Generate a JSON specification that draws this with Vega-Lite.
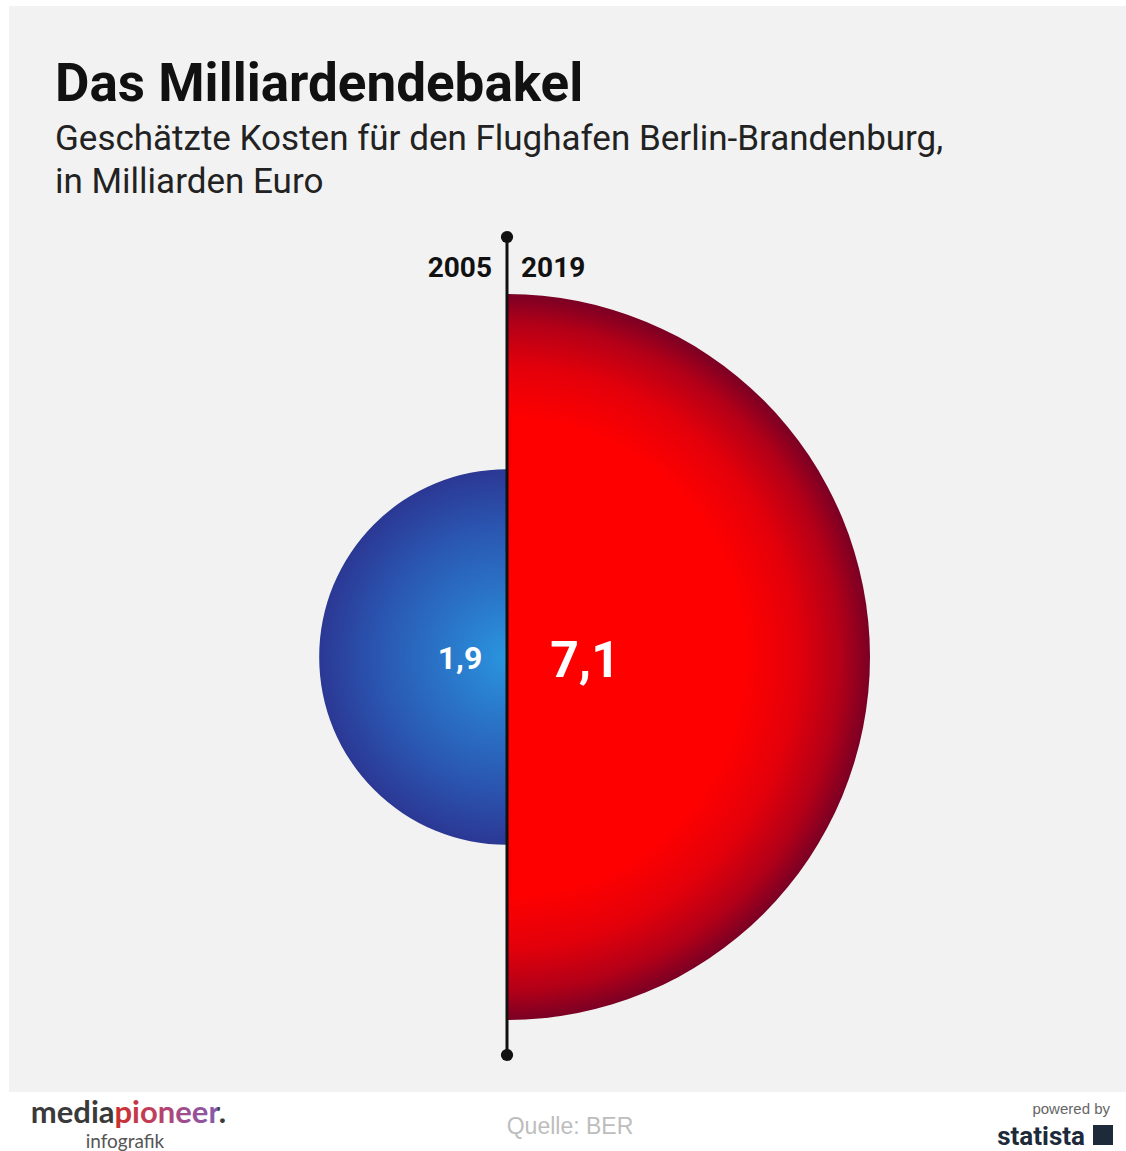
{
  "$schema": "https://vega.github.io/schema/vega-lite/v6.json",
  "width": 1117,
  "height": 1086,
  "autosize": {"type": "none"},
  "padding": {"left": 9, "top": 6, "right": 0, "bottom": 59},
  "background": "#ffffff",
  "title": {
    "text": "Das Milliardendebakel",
    "subtitle": ["Geschätzte Kosten für den Flughafen Berlin-Brandenburg,", "in Milliarden Euro"],
    "anchor": "start",
    "frame": "group",
    "offset": -194,
    "dx": 46
  },
  "config": {
    "view": {"fill": "#f2f2f2", "stroke": null},
    "axis": {"disable": true},
    "locale": {"number": {"decimal": ",", "thousands": ".", "grouping": [3], "currency": ["", " €"]}},
    "title": {
      "font": "Roboto",
      "fontSize": 53,
      "fontWeight": "bold",
      "color": "#111111",
      "subtitleFont": "Roboto",
      "subtitleFontSize": 35,
      "subtitleColor": "#222222",
      "subtitleLineHeight": 43,
      "subtitlePadding": 10
    }
  },
  "data": {"values": [
    {"year": "2005", "cost": 1.9},
    {"year": "2019", "cost": 7.1}
  ]},
  "layer": [
    {
      "transform": [{"filter": "datum.year == '2019'"}],
      "mark": {
        "type": "arc",
        "fill": {
          "gradient": "radial",
          "x1": 0.25, "y1": 0.5, "r1": 0,
          "x2": 0.25, "y2": 0.5, "r2": 0.5,
          "stops": [
            {"offset": 0, "color": "#ff0000"},
            {"offset": 0.65, "color": "#ff0000"},
            {"offset": 0.8, "color": "#e3000a"},
            {"offset": 0.92, "color": "#b20018"},
            {"offset": 1, "color": "#7a0024"}
          ]
        }
      },
      "encoding": {
        "x": {"datum": 0, "type": "quantitative", "scale": {"domain": [-4.98, 6.19], "nice": false, "zero": false}},
        "y": {"datum": 0, "type": "quantitative", "scale": {"domain": [-4.35, 6.51], "nice": false, "zero": false}},
        "theta": {"datum": 0, "type": "quantitative", "scale": {"domain": [0, 2]}},
        "theta2": {"datum": 1},
        "radius": {"field": "cost", "type": "quantitative", "scale": {"type": "sqrt", "domain": [0, 7.1], "range": [0, 363]}}
      }
    },
    {
      "transform": [{"filter": "datum.year == '2005'"}],
      "mark": {
        "type": "arc",
        "fill": {
          "gradient": "radial",
          "x1": 0.75, "y1": 0.5, "r1": 0,
          "x2": 0.75, "y2": 0.5, "r2": 0.5,
          "stops": [
            {"offset": 0, "color": "#2a95de"},
            {"offset": 0.35, "color": "#2a74c8"},
            {"offset": 0.7, "color": "#2a55b0"},
            {"offset": 1, "color": "#2b3894"}
          ]
        }
      },
      "encoding": {
        "x": {"datum": 0, "type": "quantitative"},
        "y": {"datum": 0, "type": "quantitative"},
        "theta": {"datum": 1, "type": "quantitative"},
        "theta2": {"datum": 2},
        "radius": {"field": "cost", "type": "quantitative"}
      }
    },
    {
      "transform": [{"filter": "datum.year == '2019'"}],
      "mark": {"type": "rule", "color": "#111111", "strokeWidth": 3},
      "encoding": {
        "x": {"datum": 0, "type": "quantitative"},
        "y": {"datum": -3.98, "type": "quantitative"},
        "y2": {"datum": 4.2}
      }
    },
    {
      "transform": [{"filter": "datum.year == '2019'"}],
      "mark": {"type": "point", "filled": true, "color": "#111111", "size": 150, "opacity": 1, "shape": "circle"},
      "encoding": {
        "x": {"datum": 0, "type": "quantitative"},
        "y": {"datum": 4.2, "type": "quantitative"}
      }
    },
    {
      "transform": [{"filter": "datum.year == '2019'"}],
      "mark": {"type": "point", "filled": true, "color": "#111111", "size": 150, "opacity": 1, "shape": "circle"},
      "encoding": {
        "x": {"datum": 0, "type": "quantitative"},
        "y": {"datum": -3.98, "type": "quantitative"}
      }
    },
    {
      "transform": [{"filter": "datum.year == '2005'"}],
      "mark": {"type": "text", "align": "right", "baseline": "alphabetic", "dx": -15, "font": "Roboto", "fontSize": 28, "fontWeight": "bold", "color": "#111111"},
      "encoding": {
        "x": {"datum": 0, "type": "quantitative"},
        "y": {"datum": 3.8, "type": "quantitative"},
        "text": {"field": "year"}
      }
    },
    {
      "transform": [{"filter": "datum.year == '2019'"}],
      "mark": {"type": "text", "align": "left", "baseline": "alphabetic", "dx": 14, "font": "Roboto", "fontSize": 28, "fontWeight": "bold", "color": "#111111"},
      "encoding": {
        "x": {"datum": 0, "type": "quantitative"},
        "y": {"datum": 3.8, "type": "quantitative"},
        "text": {"field": "year"}
      }
    },
    {
      "transform": [{"filter": "datum.year == '2005'"}],
      "mark": {"type": "text", "align": "center", "baseline": "alphabetic", "dx": -47, "font": "Roboto", "fontSize": 32, "fontWeight": "bold", "color": "#ffffff"},
      "encoding": {
        "x": {"datum": 0, "type": "quantitative"},
        "y": {"datum": -0.12, "type": "quantitative"},
        "text": {"field": "cost", "type": "quantitative", "format": ".1f"}
      }
    },
    {
      "transform": [{"filter": "datum.year == '2019'"}],
      "mark": {"type": "text", "align": "center", "baseline": "alphabetic", "dx": 78, "font": "Roboto", "fontSize": 50, "fontWeight": "bold", "color": "#ffffff"},
      "encoding": {
        "x": {"datum": 0, "type": "quantitative"},
        "y": {"datum": -0.2, "type": "quantitative"},
        "text": {"field": "cost", "type": "quantitative", "format": ".1f"}
      }
    },
    {
      "transform": [{"filter": "datum.year == '2019'"}],
      "mark": {"type": "text", "align": "right", "baseline": "alphabetic", "font": "Lato", "fontSize": 31, "fontWeight": "bold", "color": "#3a3a3a", "text": "media"},
      "encoding": {
        "x": {"datum": -3.925, "type": "quantitative"},
        "y": {"datum": -4.66, "type": "quantitative"}
      }
    },
    {
      "transform": [{"filter": "datum.year == '2019'"}],
      "mark": {
        "type": "text", "align": "left", "baseline": "alphabetic", "font": "Lato", "fontSize": 31, "fontWeight": "bold", "text": "pioneer.",
        "fill": {
          "gradient": "linear", "x1": 0, "y1": 0, "x2": 1, "y2": 0,
          "stops": [
            {"offset": 0, "color": "#c9302c"},
            {"offset": 0.35, "color": "#bf3f5e"},
            {"offset": 0.65, "color": "#9b4f92"},
            {"offset": 0.92, "color": "#875ba8"},
            {"offset": 0.93, "color": "#3a3a3a"},
            {"offset": 1, "color": "#3a3a3a"}
          ]
        }
      },
      "encoding": {
        "x": {"datum": -3.925, "type": "quantitative"},
        "y": {"datum": -4.66, "type": "quantitative"}
      }
    },
    {
      "transform": [{"filter": "datum.year == '2019'"}],
      "mark": {"type": "text", "align": "center", "baseline": "alphabetic", "font": "Lato", "fontSize": 19, "color": "#555555", "text": "infografik"},
      "encoding": {
        "x": {"datum": -3.82, "type": "quantitative"},
        "y": {"datum": -4.91, "type": "quantitative"}
      }
    },
    {
      "transform": [{"filter": "datum.year == '2019'"}],
      "mark": {"type": "text", "align": "center", "baseline": "alphabetic", "font": "Liberation Sans", "fontSize": 23, "color": "#bdbdbd", "text": "Quelle: BER"},
      "encoding": {
        "x": {"datum": 0.63, "type": "quantitative"},
        "y": {"datum": -4.77, "type": "quantitative"}
      }
    },
    {
      "transform": [{"filter": "datum.year == '2019'"}],
      "mark": {"type": "text", "align": "right", "baseline": "alphabetic", "font": "Liberation Sans", "fontSize": 15, "color": "#666666", "text": "powered by"},
      "encoding": {
        "x": {"datum": 6.03, "type": "quantitative"},
        "y": {"datum": -4.57, "type": "quantitative"}
      }
    },
    {
      "transform": [{"filter": "datum.year == '2019'"}],
      "mark": {"type": "text", "align": "right", "baseline": "alphabetic", "font": "Roboto", "fontSize": 26, "fontWeight": "bold", "color": "#1d2a3a", "text": "statista"},
      "encoding": {
        "x": {"datum": 5.78, "type": "quantitative"},
        "y": {"datum": -4.88, "type": "quantitative"}
      }
    },
    {
      "transform": [{"filter": "datum.year == '2019'"}],
      "mark": {"type": "point", "shape": "square", "filled": true, "opacity": 1, "color": "#1d2a3a", "size": 400},
      "encoding": {
        "x": {"datum": 5.96, "type": "quantitative"},
        "y": {"datum": -4.78, "type": "quantitative"}
      }
    }
  ]
}
